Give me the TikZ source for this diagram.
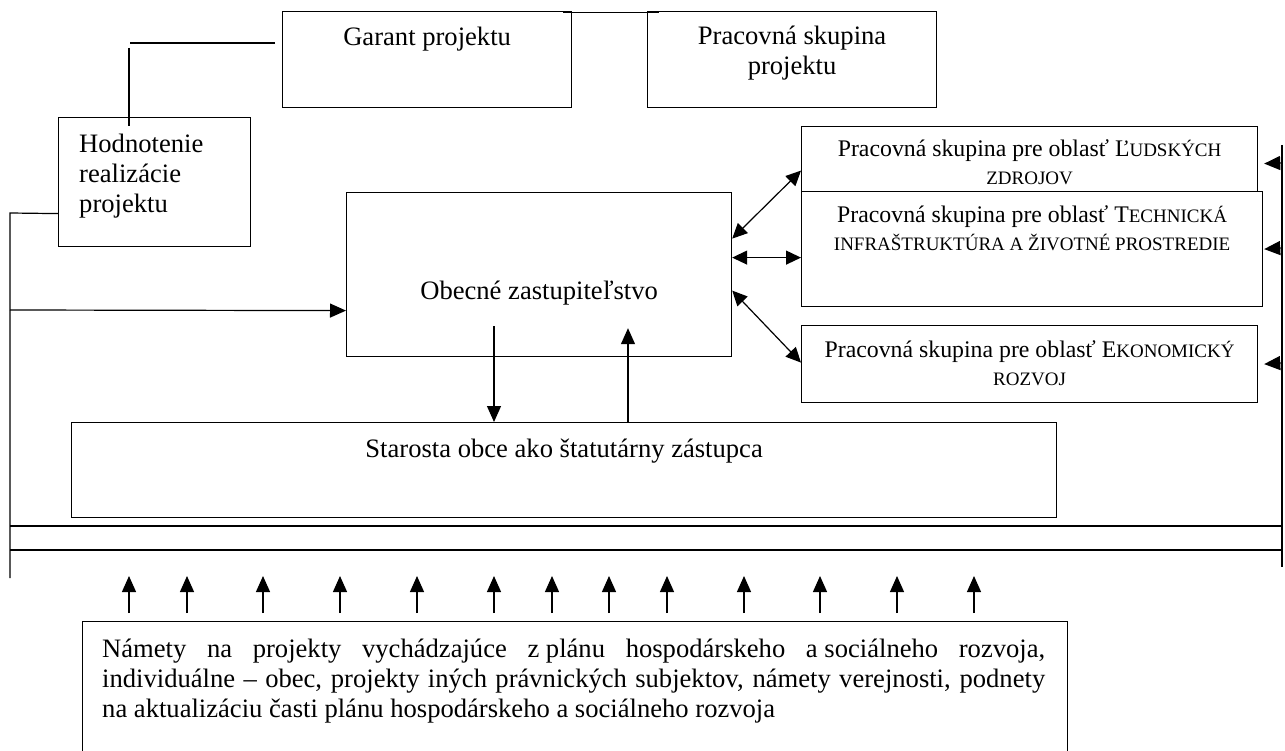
\documentclass[tikz,border=0pt]{standalone}
\usepackage{fontspec}
\setmainfont{Liberation Serif}
\usetikzlibrary{arrows.meta,calc,positioning}

\newcommand{\sk}[1]{{\fontsize{19}{28}\selectfont #1}}

\tikzset{
  box/.style={draw, line width=1.2pt, inner sep=0pt, anchor=north west},
  conn/.style={line width=1.2pt},
  tip/.style={-{Triangle[length=16pt,width=14pt]}},
  tips/.style={{Triangle[length=15pt,width=14pt]}-{Triangle[length=15pt,width=14pt]}},
  lbl/.style={inner sep=0pt, font=\fontsize{26.6}{30}\selectfont},
  slbl/.style={inner sep=0pt, font=\fontsize{23.8}{28}\selectfont},
}

\begin{document}
\begin{tikzpicture}[x=1pt,y=-1pt]
	\useasboundingbox (0,0) rectangle (1285,751);
	\clip (0,0) rectangle (1285,751);
	% boxes
	\node[box, minimum width=289, minimum height=96] (garant) at (282,11) {};
	\node[box, minimum width=289, minimum height=96] (pskup) at (647,11) {};
	\node[box, minimum width=192, minimum height=129] (hodn) at (58,117) {};
	\node[box, minimum width=385, minimum height=164] (obz) at (346,192) {};
	\node[box, minimum width=456, minimum height=65] (ludia) at (801,126) {};
	\node[box, minimum width=461, minimum height=115] (tech) at (801,191) {};
	\node[box, minimum width=456, minimum height=77] (ekon) at (801,325) {};
	\node[box, minimum width=985, minimum height=95] (starosta) at (71,422) {};
	\node[box, minimum width=985, minimum height=160] (namety) at (82,621) {};
	% texts (base = last line)
	\node[lbl, anchor=base] (garant-t) at ([yshift=-35]garant.north) {Garant projektu};
	\node[lbl, anchor=base, align=center] (pskup-t) at ([yshift=-64]pskup.north) {Pracovná skupina\\projektu};
	\node[lbl, anchor=base west, align=left] (hodn-t) at ([xshift=21,yshift=-96]hodn.north west) {Hodnotenie\\realizácie\\projektu};
	\node[lbl, anchor=base] (obz-t) at ([yshift=-108]obz.north) {Obecné zastupiteľstvo};
	\node[slbl, anchor=base, align=center] (ludia-t) at ([yshift=-59]ludia.north) {Pracovná skupina pre oblasť Ľ\sk{UDSKÝCH}\\\sk{ZDROJOV}};
	\node[slbl, anchor=base, align=center] (tech-t) at ([yshift=-60]tech.north) {Pracovná skupina pre oblasť T\sk{ECHNICKÁ}\\\sk{INFRAŠTRUKTÚRA A ŽIVOTNÉ PROSTREDIE}};
	\node[slbl, anchor=base, align=center] (ekon-t) at ([yshift=-60]ekon.north) {Pracovná skupina pre oblasť E\sk{KONOMICKÝ}\\\sk{ROZVOJ}};
	\node[lbl, anchor=base] (starosta-t) at ([yshift=-35]starosta.north) {Starosta obce ako štatutárny zástupca};
	\node[lbl, anchor=base west, text width=943pt, align=justify] (namety-t) at ([xshift=20,yshift=-36]namety.north west) {Námety na projekty vychádzajúce \mbox{z plánu} hospodárskeho \mbox{a sociálneho} rozvoja,\linebreak individuálne – obec, projekty iných právnických subjektov, námety verejnosti, podnety\linebreak na aktualizáciu časti plánu hospodárskeho a sociálneho rozvoja};
	% rails
	\coordinate (railL-top) at (10,213);
	\coordinate (railL-bot) at (10,578);
	\coordinate (railL-a) at (10,310);
	\coordinate (railR-top) at (1282,145);
	\coordinate (railR-bot) at (1282,567);
	% connectors
	\draw[conn] ([xshift=-9,yshift=-1.5]garant.north east) -- ([xshift=12,yshift=-1.5]pskup.north west);
	\draw[conn] ([xshift=-7,yshift=-32]garant.north west) -- ([xshift=-152,yshift=-32]garant.north west);
	\draw[conn] ([xshift=71,yshift=69]hodn.north west) -- ([xshift=71,yshift=-9]hodn.north west);
	\draw[conn] ([yshift=-31.5]hodn.west) -- (railL-top) -- (railL-bot);
	\draw[conn,tip] (railL-a) -- ([yshift=-36]obz.west);
	\draw[conn,tip] ([xshift=148,yshift=31]obz.south west) -- ($(starosta.north west)+(423,0)$);
	\draw[conn,tip] ($(starosta.north west)+(557,0)$) -- ([xshift=282,yshift=29]obz.south west);
	\draw[conn,tips] ([yshift=36]obz.east) -- ([yshift=-11.5]ludia.west);
	\draw[conn,tips] ([yshift=17]obz.east) -- ([yshift=-8.5]tech.west);
	\draw[conn,tips] ([yshift=-16]obz.east) -- ([yshift=1.5]ekon.west);
	\draw[conn] (railR-top) -- (railR-bot);
	\draw[conn,tip] ($(railR-top)+(0,18)$) -- ($(ludia.east)+(6,4.5)$);
	\draw[conn,tip] ($(railR-top)+(0,103)$) -- ($(tech.east)+(1,0)$);
	\draw[conn,tip] ($(railR-top)+(0,218)$) -- ($(ekon.east)+(6,0)$);
	\draw[conn] (10,526) -- (1283,526);
	\draw[conn] (10,550) -- (1283,550);
	\foreach \x in {129,187,263,340,417,494,552,609,667,744,820,897,974} \draw[conn,tip] (\x,613) -- (\x,576);
\end{tikzpicture}
\end{document}
